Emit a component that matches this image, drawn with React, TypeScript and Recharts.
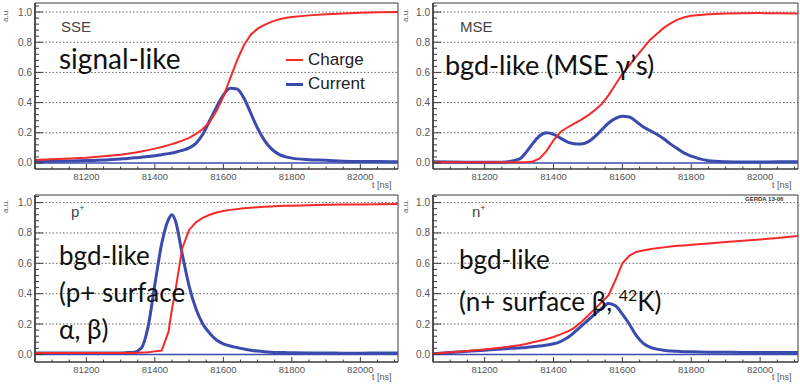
import { LineChart, Line, XAxis, YAxis, ReferenceLine, ReferenceArea } from 'recharts';

// sampling times (ns), shared by all four panels
const times = [
  81050, 81100, 81150, 81200, 81250, 81300, 81320, 81340, 81360, 81380, 81400, 81420, 81440, 81450,
  81460, 81480, 81500, 81520, 81540, 81560, 81580, 81600, 81620, 81640, 81660, 81680, 81700, 81720,
  81740, 81760, 81780, 81800, 81850, 81900, 81950, 82000, 82050, 82110,
];

const sseCharge = [
  0.02, 0.024, 0.029, 0.035, 0.044, 0.055, 0.061, 0.068, 0.076, 0.085, 0.095, 0.106, 0.118, 0.125,
  0.132, 0.148, 0.166, 0.192, 0.225, 0.272, 0.345, 0.44, 0.56, 0.68, 0.78, 0.85, 0.89, 0.915,
  0.935, 0.95, 0.96, 0.967, 0.978, 0.986, 0.991, 0.995, 0.998, 1.0,
];
const sseCurrent = [
  0.01, 0.011, 0.013, 0.016, 0.02, 0.027, 0.03, 0.034, 0.038, 0.043, 0.048, 0.055, 0.062, 0.066,
  0.071, 0.083, 0.1, 0.13, 0.19, 0.28, 0.37, 0.45, 0.495, 0.49, 0.43, 0.33, 0.23, 0.15,
  0.095, 0.06, 0.042, 0.032, 0.022, 0.018, 0.012, 0.01, 0.01, 0.008,
];

const mseCharge = [
  0.005, 0.005, 0.004, 0.004, 0.004, 0.004, 0.005, 0.01, 0.03, 0.08, 0.15, 0.205, 0.235, 0.248,
  0.26, 0.285, 0.315, 0.35, 0.39, 0.45, 0.52, 0.59, 0.645, 0.705, 0.76, 0.815, 0.855, 0.895,
  0.925, 0.95, 0.965, 0.975, 0.985, 0.99, 0.992, 0.993, 0.992, 0.99,
];
const mseCurrent = [
  0.008, 0.006, 0.005, 0.005, 0.005, 0.025, 0.07, 0.13, 0.18, 0.2, 0.19, 0.165, 0.14, 0.132,
  0.127, 0.125, 0.14, 0.175, 0.22, 0.265, 0.295, 0.31, 0.305, 0.275, 0.24, 0.215, 0.19, 0.16,
  0.125, 0.095, 0.065, 0.045, 0.015, 0.008, 0.006, 0.006, 0.008, 0.008,
];

const pCharge = [
  0.01, 0.01, 0.01, 0.01, 0.01, 0.01, 0.01, 0.01, 0.012, 0.015, 0.02, 0.025, 0.15, 0.3,
  0.42, 0.7, 0.82, 0.87, 0.9, 0.92, 0.935, 0.945, 0.952, 0.957, 0.962, 0.966, 0.97, 0.973,
  0.975, 0.977, 0.979, 0.98, 0.983, 0.985, 0.987, 0.988, 0.989, 0.99,
];
const pCurrent = [
  0.01, 0.01, 0.01, 0.01, 0.01, 0.01, 0.012, 0.015, 0.04, 0.18, 0.46, 0.73, 0.89, 0.92,
  0.88, 0.66, 0.45, 0.3, 0.2, 0.14, 0.095, 0.07, 0.055, 0.045, 0.035, 0.028, 0.022, 0.018,
  0.015, 0.013, 0.012, 0.011, 0.01, 0.01, 0.008, 0.008, 0.01, 0.01,
];

const nCharge = [
  0.005, 0.015, 0.022, 0.033, 0.045, 0.06, 0.068, 0.08, 0.09, 0.102, 0.115, 0.132, 0.15, 0.162,
  0.175, 0.212, 0.255, 0.3, 0.345, 0.39, 0.49, 0.6, 0.65, 0.675, 0.685, 0.693, 0.7, 0.705,
  0.71, 0.715, 0.718, 0.722, 0.73, 0.74, 0.748, 0.757, 0.766, 0.78,
];
const nCurrent = [
  0.005, 0.012, 0.02, 0.028, 0.036, 0.043, 0.046, 0.05, 0.055, 0.062, 0.07, 0.085, 0.11, 0.125,
  0.145, 0.185, 0.225, 0.265, 0.305, 0.335, 0.32, 0.265, 0.2, 0.125, 0.075, 0.048, 0.035, 0.027,
  0.022, 0.02, 0.018, 0.017, 0.015, 0.014, 0.013, 0.013, 0.013, 0.013,
];

const xTicks = [
  81100, 81150, 81200, 81250, 81300, 81350, 81400, 81450, 81500, 81550, 81600, 81650, 81700,
  81750, 81800, 81850, 81900, 81950, 82000, 82050, 82100,
];
const xLabels = [81200, 81400, 81600, 81800, 82000];
const yTicks = [
  0, 0.04, 0.08, 0.12, 0.16, 0.2, 0.24, 0.28, 0.32, 0.36, 0.4, 0.44, 0.48, 0.52, 0.56, 0.6,
  0.64, 0.68, 0.72, 0.76, 0.8, 0.84, 0.88, 0.92, 0.96, 1.0, 1.04,
];
const yLabels = [0, 0.2, 0.4, 0.6, 0.8, 1.0];
const gridValues = [0.2, 0.4, 0.6, 0.8, 1.0];

const RED = '#f42a2a';
const BLUE = '#3b4aad';
const AXIS = '#3a3a3a';
const X_DOMAIN: [number, number] = [81050, 82110];

const XTick = (props: any) => {
  const { x, y, payload } = props;
  const major = xLabels.includes(payload.value);
  return (
    <g>
      <line x1={x} x2={x} y1={y} y2={y - (major ? 5 : 2.5)} stroke={AXIS} />
      {major && (
        <text x={x} y={y + 11} textAnchor="middle" fontSize={9.5} fill="#555" fontFamily="Liberation Sans, Arial">
          {payload.value}
        </text>
      )}
    </g>
  );
};

const YTick = (props: any) => {
  const { x, y, payload } = props;
  const v = payload.value;
  const major = yLabels.some((l) => Math.abs(l - v) < 1e-6);
  return (
    <g>
      <line x1={x} x2={x + (major ? 8 : 4)} y1={y} y2={y} stroke={AXIS} />
      {major && (
        <text x={x - 3} y={y + 3.5} textAnchor="end" fontSize={10} fill="#555" fontFamily="Liberation Sans, Arial">
          {v.toFixed(1)}
        </text>
      )}
    </g>
  );
};

type PanelProps = {
  left: number;
  top: number;
  height: number;
  axisWidth: number;
  yDomain: [number, number];
  charge: number[];
  current: number[];
};

function Panel({ left, top, height, axisWidth, yDomain, charge, current }: PanelProps) {
  const data = times.map((t, k) => ({ t, q: charge[k], i: current[k] }));
  return (
    <div style={{ position: 'absolute', left, top }}>
      <LineChart width={400} height={height} data={data} margin={{ top: 3, right: 2, left: 0, bottom: 0 }}>
        <XAxis
          dataKey="t"
          type="number"
          domain={X_DOMAIN}
          ticks={xTicks}
          interval={0}
          tick={<XTick />}
          tickSize={0}
          tickMargin={0}
          tickLine={false}
          axisLine={{ stroke: AXIS }}
          height={23}
          allowDataOverflow
        />
        <YAxis
          type="number"
          domain={yDomain}
          ticks={yTicks}
          interval={0}
          tick={<YTick />}
          tickSize={0}
          tickMargin={0}
          tickLine={false}
          axisLine={{ stroke: AXIS, strokeWidth: 1.5 }}
          width={axisWidth}
          allowDataOverflow
        />
        {gridValues.map((g) => (
          <ReferenceLine key={g} y={g} stroke="#666" strokeDasharray="1.5 2" strokeWidth={1} />
        ))}
        <ReferenceArea x1={X_DOMAIN[0]} x2={X_DOMAIN[1]} y1={yDomain[0]} y2={yDomain[1]} fill="none" stroke={AXIS} strokeWidth={1} />
        <ReferenceLine y={0} stroke={BLUE} strokeWidth={1.5} />
        <Line dataKey="i" type="monotone" stroke={BLUE} strokeWidth={3} dot={false} isAnimationActive={false} />
        <Line dataKey="q" type="linear" stroke={RED} strokeWidth={2} dot={false} isAnimationActive={false} />
      </LineChart>
    </div>
  );
}

const small: React.CSSProperties = {
  position: 'absolute',
  fontFamily: 'Liberation Sans, Arial, sans-serif',
  fontSize: 15,
  color: '#444',
  lineHeight: 1,
};
const big: React.CSSProperties = {
  position: 'absolute',
  fontFamily: 'Lato, sans-serif',
  fontSize: 26,
  color: '#111',
  lineHeight: '37px',
  whiteSpace: 'nowrap',
};
const tiny: React.CSSProperties = {
  position: 'absolute',
  fontFamily: 'Liberation Sans, Arial, sans-serif',
  fontSize: 9,
  color: '#555',
  lineHeight: 1,
};
const au: React.CSSProperties = {
  ...tiny,
  fontSize: 8,
  transform: 'rotate(-90deg)',
  transformOrigin: 'left top',
};

export default function App() {
  return (
    <div style={{ position: 'absolute', left: 0, top: 0, width: 800, height: 385, background: '#fff', overflow: 'hidden' }}>
      <Panel left={0} top={0} height={192} axisWidth={35} yDomain={[-0.04, 1.06]} charge={sseCharge} current={sseCurrent} />
      <Panel left={400} top={0} height={192} axisWidth={33} yDomain={[-0.04, 1.06]} charge={mseCharge} current={mseCurrent} />
      <Panel left={0} top={192} height={193} axisWidth={35} yDomain={[-0.05, 1.05]} charge={pCharge} current={pCurrent} />
      <Panel left={400} top={192} height={193} axisWidth={33} yDomain={[-0.05, 1.05]} charge={nCharge} current={nCurrent} />

      <div style={{ ...au, left: 2, top: 22 }}>a.u.</div>
      <div style={{ ...au, left: 402, top: 22 }}>a.u.</div>
      <div style={{ ...au, left: 2, top: 213 }}>a.u.</div>
      <div style={{ ...au, left: 402, top: 213 }}>a.u.</div>

      <div style={{ ...tiny, left: 372, top: 181 }}>t [ns]</div>
      <div style={{ ...tiny, left: 772, top: 181 }}>t [ns]</div>
      <div style={{ ...tiny, left: 372, top: 373 }}>t [ns]</div>
      <div style={{ ...tiny, left: 772, top: 373 }}>t [ns]</div>

      <div style={{ ...small, left: 61, top: 19 }}>SSE</div>
      <div style={{ ...small, left: 460, top: 19 }}>MSE</div>
      <div style={{ ...small, left: 71, top: 204 }}>
        p<sup style={{ fontSize: 9 }}>+</sup>
      </div>
      <div style={{ ...small, left: 472, top: 204 }}>
        n<sup style={{ fontSize: 9 }}>+</sup>
      </div>

      <div style={{ ...big, left: 59, top: 40, fontSize: 28 }}>signal-like</div>
      <div style={{ ...big, left: 445, top: 46, fontSize: 27 }}>bgd-like (MSE γ’s)</div>
      <div style={{ ...big, left: 59, top: 237 }}>
        bgd-like
        <br />
        (p+ surface
        <br />
        α, β)
      </div>
      <div style={{ ...big, left: 459, top: 241, lineHeight: '36px' }}>
        bgd-like
        <br />
        (n+ surface β, <sup style={{ fontSize: 16 }}>42</sup>K)
      </div>

      <div style={{ position: 'absolute', left: 286, top: 48, fontFamily: 'Liberation Sans, Arial, sans-serif', fontSize: 17, color: '#222', lineHeight: '24px' }}>
        <div style={{ display: 'flex', alignItems: 'center' }}>
          <span style={{ display: 'inline-block', width: 17, height: 2, background: RED, marginRight: 5 }} />
          Charge
        </div>
        <div style={{ display: 'flex', alignItems: 'center' }}>
          <span style={{ display: 'inline-block', width: 17, height: 3, background: BLUE, marginRight: 5 }} />
          Current
        </div>
      </div>

      <div style={{ ...tiny, left: 745, top: 196, fontSize: 6, fontWeight: 'bold', color: '#333' }}>GERDA 13-06</div>
    </div>
  );
}
